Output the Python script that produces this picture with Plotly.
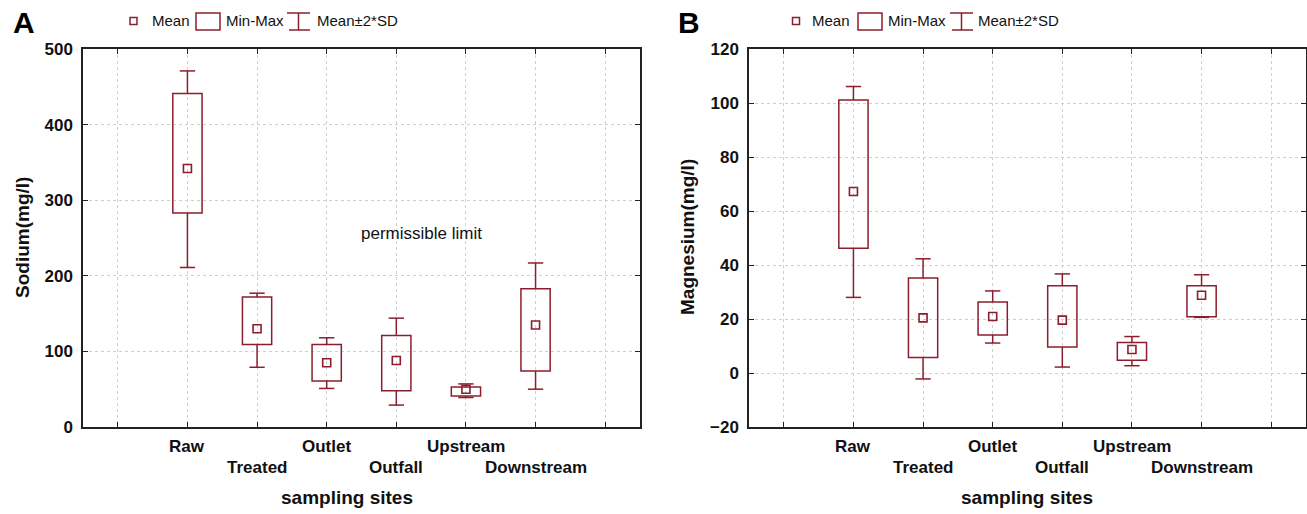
import plotly.graph_objects as go

# ---------------- data ----------------
sites = ["Raw", "Treated", "Outlet", "Outfall", "Upstream", "Downstream"]

# Sodium (mg/l)
na_mean = [342, 130, 85, 88, 50, 135]
na_min = [283, 109, 61, 48, 41, 74]
na_max = [441, 172, 109, 121, 53, 183]
na_lo2sd = [211, 79, 51, 29, 39, 50]
na_hi2sd = [471, 177, 118, 144, 57, 217]

# Magnesium (mg/l)
mg_mean = [67.2, 20.4, 20.9, 19.6, 8.7, 28.8]
mg_min = [46.2, 5.7, 14.1, 9.6, 4.7, 20.8]
mg_max = [101.1, 35.2, 26.3, 32.3, 11.3, 32.3]
mg_lo2sd = [28.0, -2.2, 11.1, 2.2, 2.7, 20.6]
mg_hi2sd = [106.1, 42.3, 30.4, 36.7, 13.5, 36.4]

na_ticks = [0, 100, 200, 300, 400, 500]
mg_ticks = [-20, 0, 20, 40, 60, 80, 100, 120]

# ---------------- style ----------------
W, H = 1307, 514
RED = "#8b1e2e"
FRAME = "#222222"
GRID = "#cfcfcf"
FONT = "Liberation Sans, Arial, sans-serif"
BOXW = 0.42
CAPW = 0.22

pos = [i + 1 for i in range(len(sites))]


def px(x):
    return x / W


def py(y):
    return 1 - y / H


fig = go.Figure()

panels = [
    dict(xa="x", ya="y", mean=na_mean, mn=na_min, mx=na_max, lo=na_lo2sd, hi=na_hi2sd),
    dict(xa="x2", ya="y2", mean=mg_mean, mn=mg_min, mx=mg_max, lo=mg_lo2sd, hi=mg_hi2sd),
]

for p in panels:
    # Min-Max box
    fig.add_trace(go.Bar(
        x=pos, base=p["mn"], y=[b - a for a, b in zip(p["mn"], p["mx"])],
        width=BOXW, marker=dict(color="rgba(0,0,0,0)", line=dict(color=RED, width=1.5)),
        hoverinfo="skip", showlegend=False, xaxis=p["xa"], yaxis=p["ya"],
    ))
    # Mean +/- 2SD whiskers with caps
    wx, wy = [], []
    for x, a, b, lo, hi in zip(pos, p["mn"], p["mx"], p["lo"], p["hi"]):
        wx += [x, x, None, x - CAPW / 2, x + CAPW / 2, None,
               x, x, None, x - CAPW / 2, x + CAPW / 2, None]
        wy += [b, hi, None, hi, hi, None, a, lo, None, lo, lo, None]
    fig.add_trace(go.Scatter(
        x=wx, y=wy, mode="lines", line=dict(color=RED, width=1.5),
        hoverinfo="skip", showlegend=False, xaxis=p["xa"], yaxis=p["ya"],
    ))
    # Mean
    fig.add_trace(go.Scatter(
        x=pos, y=p["mean"], mode="markers",
        marker=dict(symbol="square-open", size=8, color=RED, line=dict(width=1.6, color=RED)),
        showlegend=False, hoverinfo="skip",
        xaxis=p["xa"], yaxis=p["ya"],
    ))

ydom = [py(427), py(49)]
axis_common = dict(
    showline=True, linecolor=FRAME, linewidth=1.5, mirror="ticks",
    ticks="inside", ticklen=5, tickcolor=FRAME, tickwidth=1,
    showgrid=True, gridcolor=GRID, griddash="dot", gridwidth=1,
    zeroline=False, automargin=False,
)
xcommon = dict(axis_common, range=[-0.5, 7.5], tickmode="array",
               tickvals=list(range(8)), showticklabels=False)
yfont = dict(family=FONT, size=17, color="#111", weight="bold")

fig.update_layout(
    template="none", barmode="overlay",
    width=W, height=H, margin=dict(l=0, r=0, t=0, b=0, pad=0, autoexpand=False),
    paper_bgcolor="white", plot_bgcolor="white", showlegend=False,
    xaxis=dict(xcommon, domain=[px(83), px(640)], anchor="y"),
    yaxis=dict(axis_common, domain=ydom, range=[0, 500], tickmode="array",
               tickvals=na_ticks, tickfont=yfont, ticklabelstandoff=5, anchor="x"),
    xaxis2=dict(xcommon, domain=[px(749), px(1306)], anchor="y2"),
    yaxis2=dict(axis_common, domain=ydom, range=[-20, 120], tickmode="array",
                tickvals=mg_ticks, tickfont=yfont, ticklabelstandoff=5, anchor="x2"),
)

ann = []
catfont = dict(family=FONT, size=17, color="#111", weight="bold")
for xa in ["x", "x2"]:
    for i, s in enumerate(sites):
        ann.append(dict(x=pos[i], xref=xa, y=ydom[0], yref="paper", text=s,
                        showarrow=False, yanchor="middle", xanchor="center",
                        yshift=-19 if i % 2 == 0 else -40, font=catfont))

titlefont = dict(family=FONT, size=19, color="#111", weight="bold")
C = dict(xref="paper", yref="paper", showarrow=False, xanchor="center", yanchor="middle")
ann += [
    dict(C, x=px(347), y=py(497), text="sampling sites", font=titlefont),
    dict(C, x=px(1027), y=py(497), text="sampling sites", font=titlefont),
    dict(C, x=px(22), y=py(238), text="Sodium(mg/l)", textangle=-90, font=titlefont),
    dict(C, x=px(687), y=py(237), text="Magnesium(mg/l)", textangle=-90, font=titlefont),
    dict(C, x=px(24), y=py(23), text="A",
         font=dict(family=FONT, size=30, color="#000", weight="bold")),
    dict(C, x=px(689), y=py(23), text="B",
         font=dict(family=FONT, size=30, color="#000", weight="bold")),
    dict(x=4.36, xref="x", y=256, yref="y", text="permissible limit",
         showarrow=False, xanchor="center", yanchor="middle",
         font=dict(family=FONT, size=17, color="#111")),
]

# ---------------- manual legends ----------------
legfont = dict(family=FONT, size=15, color="#111")
shapes = []
LY = 21


def legend(sq_x, mean_x, box_x0, box_x1, mm_x, ic_x0, ic_x1, sd_x):
    shapes.append(dict(type="rect", xref="paper", yref="paper",
                       x0=px(sq_x - 3.5), x1=px(sq_x + 3.5), y0=py(LY + 3.5), y1=py(LY - 3.5),
                       line=dict(color=RED, width=1.5)))
    shapes.append(dict(type="rect", xref="paper", yref="paper",
                       x0=px(box_x0), x1=px(box_x1), y0=py(LY + 9), y1=py(LY - 8),
                       line=dict(color=RED, width=1.5)))
    cx = (ic_x0 + ic_x1) / 2
    for (x0, y0, x1, y1) in [(cx, LY - 8, cx, LY + 9), (ic_x0, LY - 8, ic_x1, LY - 8),
                             (ic_x0 + 2, LY + 9, ic_x1, LY + 9)]:
        shapes.append(dict(type="line", xref="paper", yref="paper",
                           x0=px(x0), x1=px(x1), y0=py(y0), y1=py(y1),
                           line=dict(color=RED, width=1.5)))
    for x, t in [(mean_x, "Mean"), (mm_x, "Min-Max"), (sd_x, "Mean±2*SD")]:
        ann.append(dict(x=px(x), y=py(LY), xref="paper", yref="paper", text=t,
                        xanchor="left", yanchor="middle", showarrow=False, font=legfont))


legend(133.5, 150, 196, 220, 224, 287, 310, 315)
legend(796, 810, 858, 882, 886, 950, 973, 976)

fig.update_layout(annotations=ann, shapes=shapes)

fig.write_html("out.html")
